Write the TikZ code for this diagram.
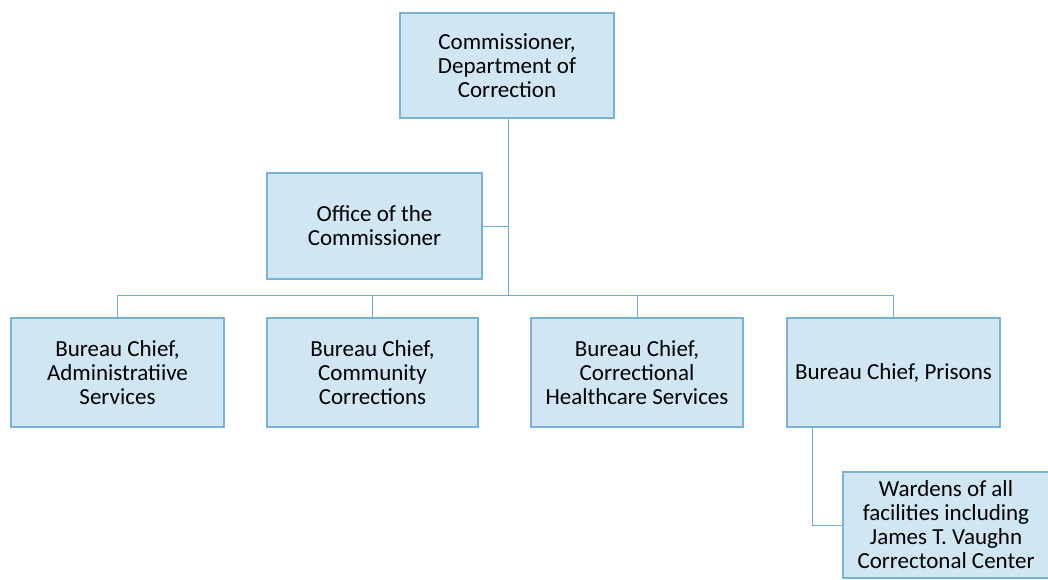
\documentclass[tikz,border=0pt]{standalone}
\usepackage{fontspec}
\setmainfont{Carlito}
\definecolor{boxfill}{RGB}{208,230,243}
\definecolor{boxline}{RGB}{120,178,214}
\definecolor{conn}{RGB}{110,172,212}
\begin{document}
\begin{tikzpicture}[x=1pt,y=-1pt,
  orgbox/.style={draw=boxline,line width=1.2pt,fill=boxfill,align=center,
    font=\fontsize{23}{24}\selectfont,inner sep=0pt},
  link/.style={draw=conn,line width=0.9pt}]
\useasboundingbox (0,0) rectangle (1048,580);
\node[orgbox,minimum width=214,minimum height=105] (comm) at (507,65.5) {Commissioner,\\Department of\\Correction};
\node[orgbox,minimum width=215,minimum height=106] (office) at (374.5,226) {Office of the\\Commissioner};
\node[orgbox,minimum width=213,minimum height=109] (b1) at (117.5,372.5) {Bureau Chief,\\Administratiive\\Services};
\node[orgbox,minimum width=211,minimum height=109] (b2) at (372.5,372.5) {Bureau Chief,\\Community\\Corrections};
\node[orgbox,minimum width=212,minimum height=109] (b3) at (637,372.5) {Bureau Chief,\\Correctional\\Healthcare Services};
\node[orgbox,minimum width=213,minimum height=109] (b4) at (893.5,372.5) {Bureau Chief, Prisons};
\node[orgbox,minimum width=206,minimum height=106] (w) at (946,525) {Wardens of all\\facilities including\\James T. Vaughn\\Correctonal Center};
\coordinate (bus) at (508,295);
\draw[link] (comm.south -| bus) -- (bus);
\draw[link] (office.east) -- (office.east -| bus);
\draw[link] (b1.north) |- (bus);
\draw[link] (b4.north) |- (bus);
\draw[link] (b2.north) -- (b2.north |- bus);
\draw[link] (b3.north) -- (b3.north |- bus);
\coordinate (pdrop) at (812,427);
\draw[link] (b4.south -| pdrop) |- (w.west);
\end{tikzpicture}
\end{document}
